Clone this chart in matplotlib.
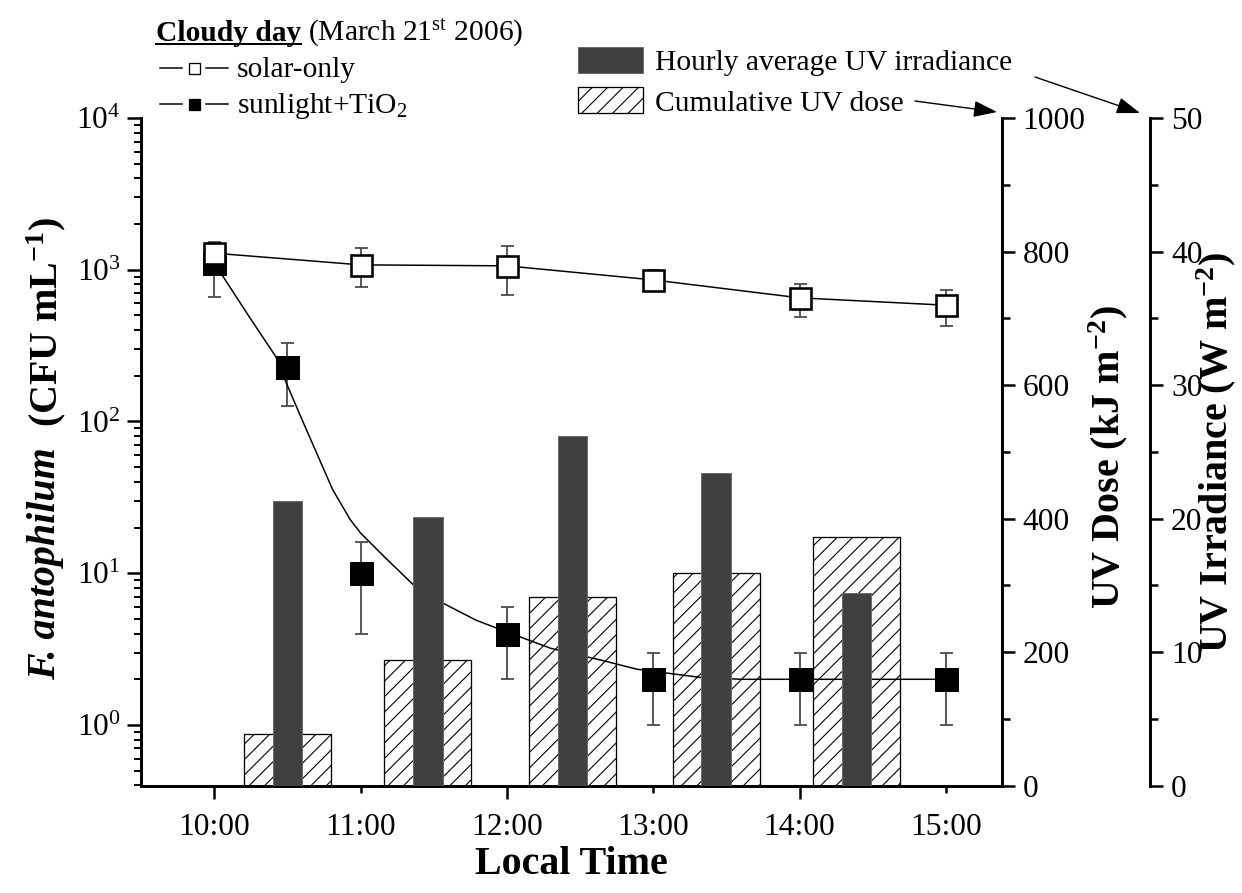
import numpy as np
import matplotlib
matplotlib.use("Agg")
import matplotlib.pyplot as plt
from matplotlib.lines import Line2D
from matplotlib.patches import Rectangle
from matplotlib.ticker import (LogLocator, MultipleLocator, FixedLocator,
                               NullFormatter, FuncFormatter)

# ------------------------------------------------------------------ data
label_hours = [10, 11, 12, 13, 14, 15]
time_labels = ["10:00", "11:00", "12:00", "13:00", "14:00", "15:00"]

solar_t = [10, 11, 12, 13, 14, 15]
solar_cfu = [1286, 1077, 1061, 857, 653, 584]
solar_lo = [1100, 764, 680, 740, 490, 429]
solar_hi = [1535, 1394, 1437, 990, 800, 737]

tio2_t = [10, 10.5, 11, 12, 13, 14, 15]
tio2_cfu = [1110, 230, 10, 4, 2, 2, 2]
tio2_lo = [660, 127, 4, 2, 1, 1, 1]
tio2_hi = [1300, 330, 16, 6, 3, 3, 3]

# fitted curve for sunlight+TiO2
fit_t = [10.00, 10.06, 10.24, 10.42, 10.48, 10.59, 10.70, 10.81, 10.93, 11.00,
         11.16, 11.36, 11.57, 11.79, 12.00, 12.30, 12.64, 12.89, 13.32, 13.60, 15.00]
fit_cfu = [1110, 902, 488, 268, 191, 108, 61.8, 35.4, 22.5, 18.4,
           12.9, 8.4, 6.3, 4.9, 4.1, 3.2, 2.68, 2.33, 2.06, 2.0, 2.0]

bar_t = [10.50, 11.46, 12.45, 13.43, 14.39]
uv_irradiance = [21.3, 20.1, 26.2, 23.4, 14.4]      # W m-2
uv_dose = [78, 188, 282, 319, 372]                  # kJ m-2

# ------------------------------------------------------------------ setup
W, H, DPI = 1242, 893, 139


def P(px):
    return px * 72.0 / DPI


plt.rcParams["font.family"] = "Liberation Serif"
plt.rcParams["mathtext.fontset"] = "custom"
plt.rcParams["mathtext.rm"] = "Liberation Serif"
plt.rcParams["mathtext.it"] = "Liberation Serif:italic"
plt.rcParams["mathtext.bf"] = "Liberation Serif:bold"
plt.rcParams["hatch.linewidth"] = P(1.1)

FS_TICK = P(31.5)
FS_LAB = P(40)
FS_LEG = P(29.5)
HATCH = "///"

fig = plt.figure(figsize=(W / DPI, H / DPI), dpi=DPI)
fig.patch.set_facecolor("white")

L, R, T, B = 140.7, 1001.7, 118.0, 785.7
ax1 = fig.add_axes([L / W, 1 - B / H, (R - L) / W, (B - T) / H])
ax2 = ax1.twinx()
ax3 = ax1.twinx()
ax2.set_zorder(1)
ax1.set_zorder(2)
ax3.set_zorder(3)
ax1.patch.set_visible(False)
ax2.patch.set_visible(False)
ax3.patch.set_visible(False)

# ------------------------------------------------------------------ bars
ax2.bar(bar_t, uv_dose, width=0.595, facecolor="white", edgecolor="black",
        hatch=HATCH, linewidth=P(1.3))
ax3.bar(bar_t, uv_irradiance, width=0.2, color="#404040",
        edgecolor="#6a6a6a", linewidth=P(1.0))

# ------------------------------------------------------------------ CFU
tio2_err = [np.array(tio2_cfu) - np.array(tio2_lo),
            np.array(tio2_hi) - np.array(tio2_cfu)]
solar_err = [np.array(solar_cfu) - np.array(solar_lo),
             np.array(solar_hi) - np.array(solar_cfu)]

ax1.errorbar(tio2_t, tio2_cfu, yerr=tio2_err, fmt="none", ecolor="#4a4a4a",
             elinewidth=P(1.8), capsize=P(6.5), capthick=P(1.8), zorder=3)
ax1.plot(fit_t, fit_cfu, color="black", lw=P(1.5), zorder=4)
ax1.plot(tio2_t, tio2_cfu, "s", color="black", ms=P(23), mew=P(1), zorder=5)

ax1.plot(solar_t, solar_cfu, "-", color="black", lw=P(1.5), zorder=6)
ax1.errorbar(solar_t, solar_cfu, yerr=solar_err, fmt="none", ecolor="#4a4a4a",
             elinewidth=P(1.8), capsize=P(6.5), capthick=P(1.8), zorder=6)
ax1.plot(solar_t, solar_cfu, "s", mfc="white", mec="black", ms=P(21),
         mew=P(2.6), zorder=7)

# ------------------------------------------------------------------ axes
ax1.set_xlim(9.497, 15.382)
ax1.set_yscale("log")
ax1.set_ylim(0.398, 1e4)
ax2.set_ylim(0, 1000)
ax3.set_ylim(0, 50)

lab = dict(zip(label_hours, time_labels))
fmt = FuncFormatter(lambda v, pos: lab.get(int(round(v)), ""))
ax1.xaxis.set_major_locator(FixedLocator(label_hours[0::2]))
ax1.xaxis.set_minor_locator(FixedLocator(label_hours[1::2]))
ax1.xaxis.set_major_formatter(fmt)
ax1.xaxis.set_minor_formatter(fmt)

ax1.yaxis.set_major_locator(LogLocator(base=10, numticks=10))
ax1.yaxis.set_minor_locator(LogLocator(base=10, subs=np.arange(2, 10), numticks=20))
ax1.yaxis.set_minor_formatter(NullFormatter())

ax2.yaxis.set_major_locator(MultipleLocator(200))
ax2.yaxis.set_minor_locator(MultipleLocator(100))
ax3.yaxis.set_major_locator(MultipleLocator(10))
ax3.yaxis.set_minor_locator(MultipleLocator(5))

SPW = P(3)
for s in ["top", "right"]:
    ax1.spines[s].set_visible(False)
for s in ["left", "bottom"]:
    ax1.spines[s].set_linewidth(SPW)
for a in (ax2, ax3):
    for s in ["top", "left", "bottom"]:
        a.spines[s].set_visible(False)
    a.spines["right"].set_linewidth(SPW)
ax3.spines["right"].set_position(("axes", (1150 - L) / (R - L)))

ax1.tick_params(axis="x", which="major", direction="out", length=P(13),
                width=P(2.5), labelsize=FS_TICK, pad=P(14))
ax1.tick_params(axis="x", which="minor", direction="out", length=P(7),
                width=P(2.5), labelsize=FS_TICK, pad=P(20))
ax1.tick_params(axis="y", which="major", direction="out", length=P(14),
                width=P(2.5), labelsize=FS_TICK, pad=P(6))
ax1.tick_params(axis="y", which="minor", direction="out", length=P(7),
                width=P(2))
for a in (ax2, ax3):
    a.tick_params(axis="y", which="major", direction="out", length=P(13),
                  width=P(2.5), labelsize=FS_TICK, pad=P(8))
    a.tick_params(axis="y", which="minor", direction="out", length=P(7.5),
                  width=P(2.5))

# ------------------------------------------------------------------ labels
def fx(x):
    return x / W


def fy(y):
    return 1 - y / H


fig.text(fx(571), fy(864), "Local Time", weight="bold", fontsize=FS_LAB,
         ha="center", va="center")
fig.text(fx(1108), fy(457), r"UV Dose (kJ m$^{\mathbf{-2}}$)", weight="bold",
         fontsize=FS_LAB, rotation=90, ha="center", va="center")
fig.text(fx(1216), fy(452), r"UV Irradiance (W m$^{\mathbf{-2}}$)", weight="bold",
         fontsize=FS_LAB, rotation=90, ha="center", va="center")

fig.canvas.draw()
rend = fig.canvas.get_renderer()

# left label in two parts: italic bold species + bold unit
t1 = fig.text(fx(46), 0, "F. antophilum", style="italic", weight="bold",
              fontsize=FS_LAB, rotation=90, ha="center", va="bottom")
t2 = fig.text(fx(46), 0, r"(CFU mL$^{\mathbf{-1}}$)", weight="bold",
              fontsize=FS_LAB, rotation=90, ha="center", va="bottom")
h1 = t1.get_window_extent(rend).height
h2 = t2.get_window_extent(rend).height
gap = 20
center = H - 448
start = center - (h1 + gap + h2) / 2
t1.set_y(start / H)
t2.set_y((start + h1 + gap) / H)

# ------------------------------------------------------------------ legend 1
title = fig.text(fx(156), fy(41), "Cloudy day", weight="bold",
                 fontsize=FS_LEG, va="baseline")
bb = title.get_window_extent(rend)
fig.add_artist(Line2D([bb.x0 / W, bb.x1 / W], [fy(44), fy(44)],
                      color="black", lw=P(2)))
fig.text((bb.x1 + 7) / W, fy(41), r"(March 21$^{\mathrm{st}}$ 2006)",
         fontsize=FS_LEG, va="baseline")

for yc, base, face, txt in [(68, 77, "white", "solar-only"),
                            (104, 113, "black", r"sunlight+TiO$_{2}$")]:
    fig.add_artist(Line2D([fx(160), fx(182)], [fy(yc), fy(yc)], color="black", lw=P(1.5)))
    fig.add_artist(Line2D([fx(206), fx(228)], [fy(yc), fy(yc)], color="black", lw=P(1.5)))
    fig.add_artist(Line2D([fx(194)], [fy(yc)], marker="s", ms=P(11), mfc=face,
                          mec="black", mew=P(1.3), ls="none"))
    fig.text(fx(237), fy(base), txt, fontsize=FS_LEG, va="baseline")

# ------------------------------------------------------------------ legend 2
fig.add_artist(Rectangle((fx(578), fy(73)), (643 - 578) / W, 26 / H,
                         transform=fig.transFigure, facecolor="#404040",
                         edgecolor="#6a6a6a", lw=P(1)))
fig.add_artist(Rectangle((fx(578), fy(113)), (643 - 578) / W, 26 / H,
                         transform=fig.transFigure, facecolor="white",
                         edgecolor="black", hatch=HATCH, lw=P(1.3)))
fig.text(fx(655), fy(70), "Hourly average UV irradiance", fontsize=FS_LEG,
         va="baseline")
fig.text(fx(655), fy(111), "Cumulative UV dose", fontsize=FS_LEG,
         va="baseline")

arrow_kw = dict(arrowstyle="-|>,head_length=1.0,head_width=0.35",
                color="black", lw=P(1.4), mutation_scale=P(20),
                shrinkA=0, shrinkB=0)
ax1.annotate("", xy=(997, H - 112), xycoords="figure pixels",
             xytext=(915, H - 101), textcoords="figure pixels",
             arrowprops=arrow_kw, annotation_clip=False)
ax1.annotate("", xy=(1140, H - 113), xycoords="figure pixels",
             xytext=(1035, H - 77), textcoords="figure pixels",
             arrowprops=arrow_kw, annotation_clip=False)

fig.savefig("out.png", dpi=DPI)
